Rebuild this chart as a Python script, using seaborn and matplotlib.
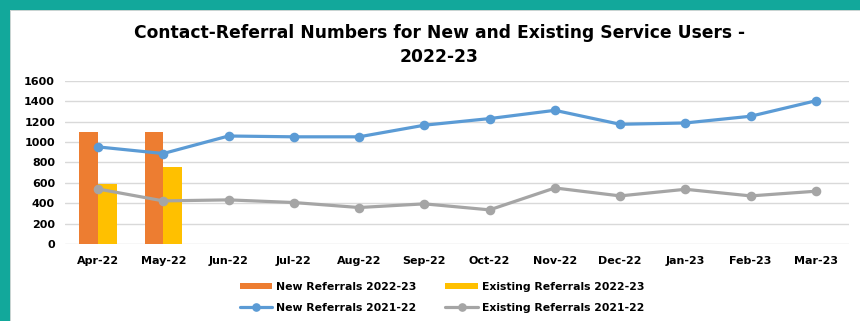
import numpy as np
import pandas as pd
import matplotlib
matplotlib.use("Agg")
import matplotlib.pyplot as plt
import seaborn as sns
from matplotlib.patches import Patch, Rectangle
from matplotlib.lines import Line2D

months = ["Apr-22", "May-22", "Jun-22", "Jul-22", "Aug-22", "Sep-22",
          "Oct-22", "Nov-22", "Dec-22", "Jan-23", "Feb-23", "Mar-23"]
new_2223 = [1100, 1100] + [np.nan] * 10
existing_2223 = [592, 758] + [np.nan] * 10
new_2122 = [953, 888, 1060, 1052, 1052, 1166, 1231, 1312, 1175, 1188, 1254, 1406]
existing_2122 = [540, 423, 433, 407, 358, 394, 335, 550, 472, 537, 472, 518]
yticks = [0, 200, 400, 600, 800, 1000, 1200, 1400, 1600]

title = "Contact-Referral Numbers for New and Existing Service Users -\n2022-23"
bar_names = ["New Referrals 2022-23", "Existing Referrals 2022-23"]
line_names = ["New Referrals 2021-22", "Existing Referrals 2021-22"]
bar_colors = ["#ED7D31", "#FFC000"]
line_colors = ["#5B9BD5", "#A5A5A5"]

sns.set_theme(style="white")
plt.rcParams["font.family"] = ["DejaVu Sans"]
plt.rcParams["text.color"] = "black"
plt.rcParams["xtick.color"] = "black"
plt.rcParams["ytick.color"] = "black"

bars = pd.DataFrame({
    "month": months * 2,
    "value": new_2223 + existing_2223,
    "series": [bar_names[0]] * 12 + [bar_names[1]] * 12,
})
lines = pd.DataFrame({
    "month": months * 2,
    "value": new_2122 + existing_2122,
    "series": [line_names[0]] * 12 + [line_names[1]] * 12,
})

fig = plt.figure(figsize=(8.6, 3.21), dpi=100)
ax = fig.add_axes([0.076, 0.2399, 0.9107, 0.5078])

sns.barplot(data=bars, x="month", y="value", hue="series", order=months,
            hue_order=bar_names, palette=bar_colors, width=0.57, gap=0,
            ax=ax, legend=False, saturation=1, linewidth=0)
sns.pointplot(data=lines, x="month", y="value", hue="series", order=months,
              hue_order=line_names, palette=line_colors, markers="o",
              linestyles="-", dodge=False, ax=ax, legend=False,
              markersize=5.2, linewidth=2.3)

ax.set_ylim(0, 1600)
ax.set_xlim(-0.5, 11.5)
ax.set_yticks(yticks)
ax.set_yticklabels([str(v) for v in yticks], fontsize=8, fontweight="bold",
                   color="black")
ax.set_xticks(range(len(months)))
ax.set_xticklabels(months, fontsize=8, fontweight="bold", color="black")
ax.tick_params(axis="x", length=0, pad=9)
ax.tick_params(axis="y", length=0, pad=7.5)
ax.yaxis.grid(True, color="#D9D9D9", linewidth=1)
ax.set_axisbelow(True)
for s in ax.spines.values():
    s.set_visible(False)
ax.set_xlabel("")
ax.set_ylabel("")

fig.text(0.511, 0.925, title, ha="center", va="top", fontsize=12.3,
         fontweight="bold", linespacing=1.4, color="black")

handles = [
    Patch(facecolor=bar_colors[0], edgecolor="none", label=bar_names[0]),
    Line2D([], [], color=line_colors[0], marker="o", markersize=5.2, linewidth=2.3,
           label=line_names[0]),
    Patch(facecolor=bar_colors[1], edgecolor="none", label=bar_names[1]),
    Line2D([], [], color=line_colors[1], marker="o", markersize=5.2, linewidth=2.3,
           label=line_names[1]),
]
leg = fig.legend(handles=handles, ncol=2, loc="center", bbox_to_anchor=(0.514, 0.074),
                 frameon=False, prop={"size": 7.8, "weight": "bold"},
                 handlelength=3.0, handleheight=0.5, columnspacing=2.65,
                 labelspacing=1.0, handletextpad=0.35)
for t in leg.get_texts():
    t.set_color("black")

teal = "#12A89B"
fig.patches.append(Rectangle((0, 0), 10 / 860, 1, transform=fig.transFigure,
                             facecolor=teal, edgecolor="none", zorder=10))
fig.patches.append(Rectangle((0, 1 - 10 / 321), 1, 10 / 321, transform=fig.transFigure,
                             facecolor=teal, edgecolor="none", zorder=10))
fig.patches.append(Rectangle((10 / 860, 0), 1.2 / 860, 1 - 10 / 321, transform=fig.transFigure,
                             facecolor="#C8D4D2", edgecolor="none", zorder=10))
fig.patches.append(Rectangle((10 / 860, 1 - 11.2 / 321), 1, 1.2 / 321, transform=fig.transFigure,
                             facecolor="#C8D4D2", edgecolor="none", zorder=10))

fig.savefig("out.png", dpi=100)
